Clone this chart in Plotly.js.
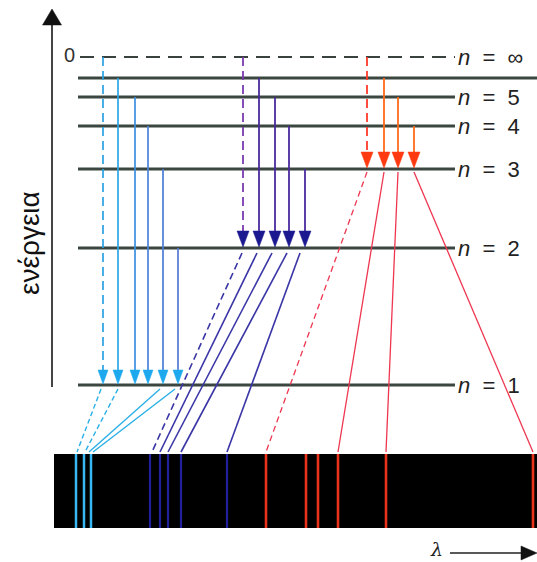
<!DOCTYPE html>
<html>
<head>
<meta charset="utf-8">
<script src="https://cdn.plot.ly/plotly-3.0.1.min.js"></script>
<style>html,body{margin:0;padding:0;background:#fff;}#chart{width:537px;height:562px;}</style>
</head>
<body>
<div id="chart"></div>
<script>
// ---- data (schematic energy units, y up; x in diagram units) ----
const levelNames  = ['∞', '6', '5', '4', '3', '2', '1'];
const levelEnergy = [505, 484, 465, 436, 393, 314, 177];
const levelLabels = ['<i>n</i>&nbsp;&nbsp;=&nbsp;&nbsp;∞', '', '<i>n</i>&nbsp;&nbsp;=&nbsp;&nbsp;5', '<i>n</i>&nbsp;&nbsp;=&nbsp;&nbsp;4',
                     '<i>n</i>&nbsp;&nbsp;=&nbsp;&nbsp;3', '<i>n</i>&nbsp;&nbsp;=&nbsp;&nbsp;2', '<i>n</i>&nbsp;&nbsp;=&nbsp;&nbsp;1'];

// series: x position of each transition arrow and its upper level
const lymanX = [103, 118, 135, 148, 163, 178];
const lymanFrom = ['∞', '6', '5', '4', '3', '2'];
const balmerX = [243, 259, 275, 289, 305];
const balmerFrom = ['∞', '6', '5', '4', '3'];
const paschenX = [367, 384, 398, 414];
const paschenFrom = ['∞', '6', '5', '4'];

// links from the levels to the spectrum (start x, end x on spectrum)
const lymanLinkStart = [101, 118, 160, 175];
const lymanLinkEnd = [77, 85, 89, 93];
const lymanLinkDashed = [true, true, false, false];
const balmerLinkStart = [242, 257, 272, 287, 300];
const balmerLinkEnd = [152, 160, 168, 181, 227];
const balmerLinkDashed = [true, false, false, false, false];
const paschenLinkStart = [367, 384, 398, 414];
const paschenLinkEnd = [266, 338, 386, 533];
const paschenLinkDashed = [true, false, false, false];

// spectrum lines (position along λ)
const lymanSpec = [76, 84, 91];
const balmerSpec = [150, 160, 168, 181, 227];
const paschenSpec = [266, 306, 318, 338, 386, 533];

// ---- helpers ----
const E = n => levelEnergy[levelNames.indexOf(n)];
const specTop = 108, specBottom = 34, specLeft = 54, specRight = 537;
const traces = [];
const shapes = [];
const annotations = [];

function seg(x0, y0, x1, y1, color, width, dash) {
  traces.push({x: [x0, x1], y: [y0, y1], mode: 'lines', type: 'scatter',
    line: {color: color, width: width, dash: dash || 'solid'}, hoverinfo: 'skip'});
}
function tri(x, tipY, w, h, color) {
  traces.push({x: [x - w / 2, x + w / 2, x, x - w / 2], y: [tipY + h, tipY + h, tipY, tipY + h],
    mode: 'lines', type: 'scatter', fill: 'toself', fillcolor: color,
    line: {color: color, width: 0.5}, hoverinfo: 'skip'});
}

// spectrum background
shapes.push({type: 'rect', xref: 'x', yref: 'y', x0: specLeft, x1: specRight, y0: specBottom, y1: specTop,
  fillcolor: '#000000', line: {width: 0}, layer: 'below'});

// energy levels
levelNames.forEach((n, i) => {
  if (n === '∞') {
    seg(80, levelEnergy[i], 455, levelEnergy[i], '#3a423e', 2.2, '14px,8px');
  } else {
    seg(78, levelEnergy[i], n === '6' ? 537 : 455, levelEnergy[i], '#3a463f', 3);
  }
  if (levelLabels[i]) {
    annotations.push({x: 456, y: levelEnergy[i], xref: 'x', yref: 'y', text: levelLabels[i],
      showarrow: false, xanchor: 'left', yanchor: 'middle',
      font: {family: 'Liberation Sans, Arial, sans-serif', size: 22, color: '#222'}});
  }
});
annotations.push({x: 77, y: levelEnergy[0] + 2, xref: 'x', yref: 'y', text: '0', showarrow: false,
  xanchor: 'right', yanchor: 'middle', font: {family: 'Liberation Sans, Arial, sans-serif', size: 20, color: '#333'}});

// Lyman series
const lymanColors = ['#2aa2e2', '#2aa6e8', '#3a8ee0', '#4a84da', '#4a7cd6', '#5578d2'];
lymanX.forEach((x, i) => {
  const top = E(lymanFrom[i]);
  seg(x, top, x, E('1') + 14, lymanColors[i], 1.7, i === 0 ? '9px,5px' : 'solid');
  tri(x, E('1') + 1, 10, 14, '#1ea8ee');
});
// Balmer series
balmerX.forEach((x, i) => {
  const top = E(balmerFrom[i]);
  seg(x, top, x, E('2') + 15, i === 0 ? '#7a3ab0' : '#4a2a9e', 1.8, i === 0 ? '9px,5px' : 'solid');
  tri(x, E('2') + 1, 12, 16, '#1c1890');
});
// Paschen series
paschenX.forEach((x, i) => {
  const top = E(paschenFrom[i]);
  seg(x, top, x, E('3') + 15, i === 0 ? '#ff3a2a' : '#ff6a1a', 1.8, i === 0 ? '9px,5px' : 'solid');
  tri(x, E('3') + 1, 12, 16, '#ff3a10');
});

// links to spectrum
lymanLinkStart.forEach((x, i) => seg(x, E('1') - 4, lymanLinkEnd[i], specTop + 2, '#2ab0e6', 1.4, lymanLinkDashed[i] ? '5px,3px' : 'solid'));
balmerLinkStart.forEach((x, i) => seg(x, E('2') - 5, balmerLinkEnd[i], specTop + 2, '#3a36a6', 1.6, balmerLinkDashed[i] ? '7px,4px' : 'solid'));
paschenLinkStart.forEach((x, i) => seg(x, E('3') - 3, paschenLinkEnd[i], specTop + 2, '#ee3650', 1.3, paschenLinkDashed[i] ? '6px,4px' : 'solid'));

// spectrum lines
lymanSpec.forEach(x => seg(x, specBottom, x, specTop, '#38b8f2', 2.5));
balmerSpec.forEach(x => seg(x, specBottom, x, specTop, '#22209a', 2.2));
paschenSpec.forEach(x => seg(x, specBottom, x, specTop, '#e8321a', 2.6));

// energy axis arrow
seg(52, 175, 52, 540, '#444', 2);
tri(52, 553, 19, -16, '#111');
annotations.push({x: 29, y: 319, xref: 'x', yref: 'y', text: 'ενέργεια', showarrow: false, textangle: -90,
  xanchor: 'center', yanchor: 'middle', font: {family: 'Liberation Sans, Arial, sans-serif', size: 28, color: '#111'}});

// wavelength arrow
seg(450, 9, 524, 9, '#222', 1.6);
traces.push({x: [521, 521, 537, 521], y: [16, 2, 9, 16], mode: 'lines', type: 'scatter', fill: 'toself',
  fillcolor: '#111', line: {color: '#111', width: 0.5}, hoverinfo: 'skip'});
annotations.push({x: 436, y: 1, xref: 'x', yref: 'y', text: '<i>λ</i>', showarrow: false, xanchor: 'center', yanchor: 'bottom',
  borderpad: 0, font: {family: 'DejaVu Serif, serif', size: 19, color: '#222'}});

const layout = {
  width: 537, height: 562, margin: {l: 0, r: 0, t: 0, b: 0},
  paper_bgcolor: '#ffffff', plot_bgcolor: '#ffffff', showlegend: false,
  xaxis: {range: [0, 537], visible: false, fixedrange: true},
  yaxis: {range: [0, 562], visible: false, fixedrange: true},
  shapes: shapes, annotations: annotations
};
Plotly.newPlot('chart', traces, layout, {staticPlot: true, displayModeBar: false});
</script>
</body>
</html>
